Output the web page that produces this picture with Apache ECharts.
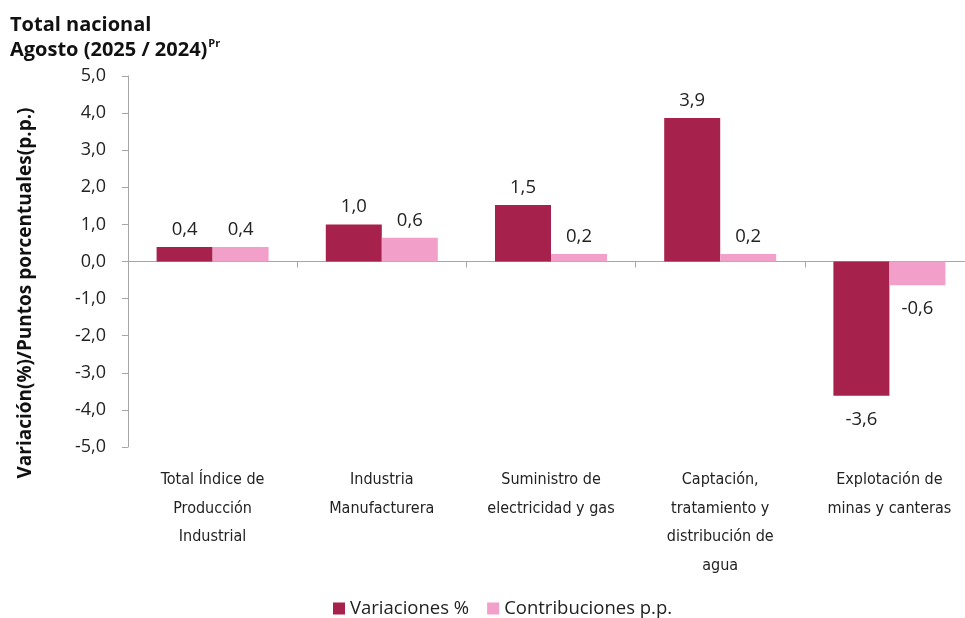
<!DOCTYPE html>
<html>
<head>
<meta charset="utf-8">
<script src="https://cdn.jsdelivr.net/npm/echarts@6/dist/echarts.min.js"></script>
<style>
  html, body { margin: 0; padding: 0; background: #fff; }
  #chart { width: 965px; height: 618px; }
</style>
</head>
<body>
<div id="chart"></div>
<script>
// categories and values
var categories = [
  'Total Índice de\nProducción\nIndustrial',
  'Industria\nManufacturera',
  'Suministro de\nelectricidad y gas',
  'Captación,\ntratamiento y\ndistribución de\nagua',
  'Explotación de\nminas y canteras'
]
var variaciones = [0.39, 1.0, 1.52, 3.87, -3.62]
var contribuciones = [0.39, 0.64, 0.2, 0.2, -0.64]
var legendNames = ['Variaciones %', 'Contribuciones p.p.']
var yTitle = 'Variación(%)/Puntos porcentuales(p.p.)'

var font = "'Open Sans', 'Noto Sans', sans-serif"
var narrow = "'Liberation Sans Narrow', 'DejaVu Sans Condensed', sans-serif"

function fmt(v) {
  return v.toFixed(1).replace('.', ',')
}

function labelFor(values) {
  return values.map(function(v) {
    return {
      value: v,
      label: {
        position: v < 0 ? 'bottom' : 'top',
        distance: v < 0 ? 14 : 8
      }
    }
  })
}

var chart = echarts.init(document.getElementById('chart'))
chart.setOption({
  animation: false,
  textStyle: { fontFamily: font },
  title: {
    left: 5,
    top: 8,
    text: '{b|Total nacional}\n{b|Agosto (2025 / 2024)}{s|Pr}',
    textStyle: {
      rich: {
        b: { fontFamily: font, fontWeight: 'bold', fontSize: 20, color: '#111', lineHeight: 25 },
        s: { fontFamily: font, fontWeight: 'bold', fontSize: 11, color: '#111', verticalAlign: 'top', padding: [0, 0, 10, 1] }
      }
    }
  },
  graphic: [{
    type: 'text',
    x: 26,
    y: 293,
    rotation: Math.PI / 2,
    style: {
      text: yTitle,
      fontFamily: font,
      fontWeight: 'bold',
      fontSize: 19,
      fill: '#111',
      align: 'center',
      verticalAlign: 'middle'
    }
  }],
  legend: {
    data: legendNames,
    left: 328,
    top: 594,
    itemWidth: 12,
    itemHeight: 12,
    itemGap: 18,
    icon: 'rect',
    textStyle: { fontFamily: font, fontSize: 18.5, color: '#222' }
  },
  grid: {
    left: 128,
    top: 76,
    right: -9,
    bottom: 171,
    containLabel: false,
    outerBoundsMode: 'none'
  },
  xAxis: [{
    type: 'category',
    data: categories,
    position: 'bottom',
    axisLine: { show: false, onZero: false },
    axisTick: { show: false },
    axisLabel: {
      interval: 0,
      margin: 19,
      fontFamily: narrow,
      fontSize: 16,
      lineHeight: 28.5,
      color: '#222'
    }
  }, {
    type: 'category',
    data: categories,
    position: 'top',
    axisLine: { show: true, onZero: true, lineStyle: { color: '#a6a6a6', width: 1 } },
    axisTick: { show: true, inside: true, length: 6, lineStyle: { color: '#a6a6a6' } },
    axisLabel: { show: false }
  }],
  yAxis: {
    type: 'value',
    min: -5,
    max: 5,
    interval: 1,
    axisLine: { show: true, lineStyle: { color: '#a6a6a6' } },
    axisTick: { show: true, length: 6, lineStyle: { color: '#a6a6a6' } },
    splitLine: { show: false },
    axisLabel: {
      margin: 22,
      fontFamily: font,
      fontSize: 18,
      color: '#222',
      formatter: function(v) { return fmt(v) }
    }
  },
  series: [{
    name: legendNames[0],
    type: 'bar',
    xAxisIndex: 0,
    barWidth: 56,
    barGap: '0%',
    itemStyle: { color: '#a6214b' },
    label: {
      show: true,
      fontFamily: font,
      fontSize: 18.5,
      color: '#222',
      formatter: function(p) { return fmt(p.value) }
    },
    data: labelFor(variaciones)
  }, {
    name: legendNames[1],
    type: 'bar',
    xAxisIndex: 0,
    barWidth: 56,
    barGap: '0%',
    itemStyle: { color: '#f29fca' },
    label: {
      show: true,
      fontFamily: font,
      fontSize: 18.5,
      color: '#222',
      formatter: function(p) { return fmt(p.value) }
    },
    data: labelFor(contribuciones)
  }]
})
</script>
</body>
</html>
